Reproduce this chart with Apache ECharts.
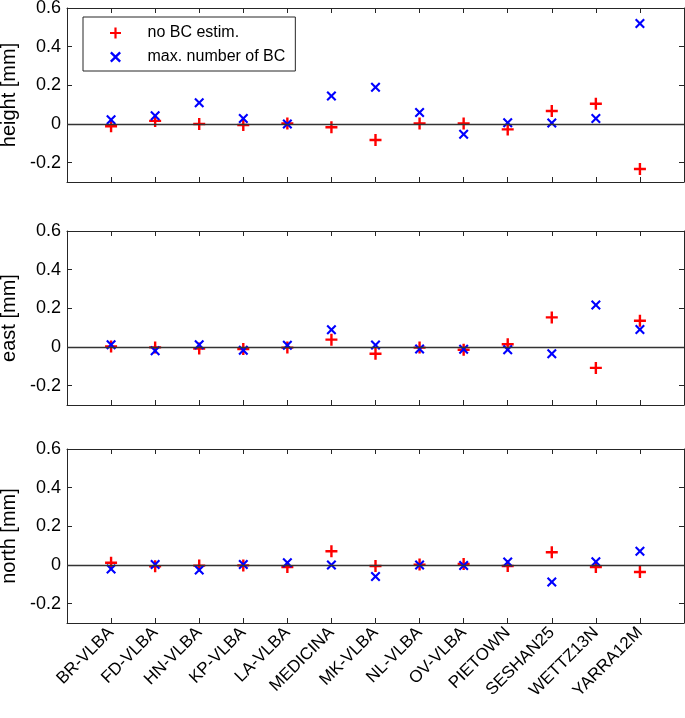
<!DOCTYPE html>
<html><head><meta charset="utf-8">
<script src="https://cdn.jsdelivr.net/npm/echarts@6/dist/echarts.min.js"></script>
<style>html,body{margin:0;padding:0;background:#fff}#c{width:685px;height:718px}</style>
</head><body><div id="c"></div>
<script>
const categories = ['BR-VLBA','FD-VLBA','HN-VLBA','KP-VLBA','LA-VLBA','MEDICINA','MK-VLBA','NL-VLBA','OV-VLBA','PIETOWN','SESHAN25','WETTZ13N','YARRA12M'];
const heightNoBC  = [-0.012, 0.016, 0.000, -0.005, 0.003, -0.017, -0.083, 0.003, 0.003, -0.028, 0.067, 0.105, -0.233];
const heightMaxBC = [0.022, 0.043, 0.110, 0.029, 0.000, 0.145, 0.190, 0.059, -0.053, 0.006, 0.005, 0.028, 0.520];
const eastNoBC    = [0.003, -0.002, -0.008, -0.010, -0.003, 0.038, -0.035, -0.003, -0.014, 0.014, 0.153, -0.108, 0.136];
const eastMaxBC   = [0.012, -0.019, 0.012, -0.017, 0.009, 0.089, 0.010, -0.010, -0.012, -0.014, -0.035, 0.217, 0.090];
const northNoBC   = [0.012, -0.007, -0.003, -0.002, -0.010, 0.071, -0.005, 0.002, 0.005, -0.005, 0.066, -0.010, -0.036];
const northMaxBC  = [-0.021, 0.002, -0.026, 0.003, 0.012, 0.000, -0.060, 0.000, -0.002, 0.016, -0.088, 0.017, 0.071];
const yTicks = [-0.2, 0, 0.2, 0.4, 0.6];
const panelNames = ['height [mm]', 'east [mm]', 'north [mm]'];
const seriesNames = ['no BC estim.', 'max. number of BC'];

const panels = [[heightNoBC, heightMaxBC], [eastNoBC, eastMaxBC], [northNoBC, northMaxBC]];
const FONT = 'Liberation Sans, Arial, sans-serif';
const AX = '#262626';
const xTickVals = categories.map((c, i) => i + 1);
const plusPath = 'path://M4,0H6V4H10V6H6V10H4V6H0V4H4Z';
const crossPath = 'path://M0,1.5L1.5,0L5,3.5L8.5,0L10,1.5L6.5,5L10,8.5L8.5,10L5,6.5L1.5,10L0,8.5L3.5,5Z';

const grids = [], xAxes = [], yAxes = [], series = [];
const tops = [8, 231, 449];
tops.forEach((t, p) => {
  grids.push({left: 67, right: 1, top: t, height: 174, containLabel: false, outerBoundsMode: 'none'});
  const last = p === 2;
  xAxes.push({
    type: 'value', gridIndex: p, position: 'bottom', min: 0, max: 14, interval: 1,
    axisLine: {show: true, onZero: false, lineStyle: {color: AX, width: 1}},
    axisTick: {show: true, inside: true, length: 5, customValues: xTickVals, lineStyle: {color: AX}},
    splitLine: {show: false},
    axisLabel: {show: last, customValues: xTickVals, rotate: 45, margin: 7, padding: [14, 0, 0, 0],
      fontSize: 17, fontFamily: FONT, color: '#000',
      formatter: v => categories[Math.round(v) - 1] || ''}
  });
  xAxes.push({
    type: 'value', gridIndex: p, position: 'top', min: 0, max: 14, interval: 1,
    axisLine: {show: true, onZero: false, lineStyle: {color: AX, width: 1}},
    axisTick: {show: true, inside: true, length: 5, customValues: xTickVals, lineStyle: {color: AX}},
    splitLine: {show: false}, axisLabel: {show: false}
  });
  yAxes.push({
    type: 'value', gridIndex: p, position: 'left', min: -0.3, max: 0.6,
    name: panelNames[p], nameLocation: 'middle', nameGap: 36,
    nameTextStyle: {fontSize: 20, fontFamily: FONT, color: '#000'},
    axisLine: {show: true, onZero: false, lineStyle: {color: AX, width: 1}},
    axisTick: {show: true, inside: true, length: 5, customValues: yTicks, lineStyle: {color: AX}},
    splitLine: {show: false},
    axisLabel: {customValues: yTicks, fontSize: 18, fontFamily: FONT, color: '#000', margin: 6,
      formatter: v => (Math.abs(v) < 1e-9 ? '0' : String(Math.round(v * 10) / 10))}
  });
  yAxes.push({
    type: 'value', gridIndex: p, position: 'right', min: -0.3, max: 0.6,
    axisLine: {show: true, onZero: false, lineStyle: {color: AX, width: 1}},
    axisTick: {show: true, inside: true, length: 5, customValues: yTicks, lineStyle: {color: AX}},
    splitLine: {show: false}, axisLabel: {show: false}
  });
  const [a, b] = panels[p];
  series.push({
    name: seriesNames[0], type: 'scatter', xAxisIndex: 2 * p, yAxisIndex: 2 * p,
    data: a.map((v, i) => [i + 1, v]), symbol: plusPath, symbolSize: 12,
    itemStyle: {color: '#ff0000', opacity: 1},
    markLine: {silent: true, symbol: 'none', label: {show: false},
      lineStyle: {color: '#333', width: 1.3, type: 'solid'}, data: [{yAxis: 0}], animation: false},
    z: 3
  });
  series.push({
    name: seriesNames[1], type: 'scatter', xAxisIndex: 2 * p, yAxisIndex: 2 * p,
    data: b.map((v, i) => [i + 1, v]), symbol: crossPath, symbolSize: 10,
    itemStyle: {color: '#0000ff', opacity: 1}, z: 4
  });
});

const chart = echarts.init(document.getElementById('c'), null, {renderer: 'canvas'});
chart.setOption({
  animation: false,
  backgroundColor: '#fff',
  grid: grids, xAxis: xAxes, yAxis: yAxes, series: series,
  legend: {
    data: seriesNames, orient: 'vertical', left: 83, top: 17,
    itemWidth: 54, itemHeight: 11, itemGap: 8,
    padding: [8, 10, 6, 27],
    borderColor: AX, borderWidth: 1, backgroundColor: '#fff',
    textStyle: {fontSize: 16, fontFamily: FONT, color: '#000'},
    selectedMode: false
  }
});
</script></body></html>
